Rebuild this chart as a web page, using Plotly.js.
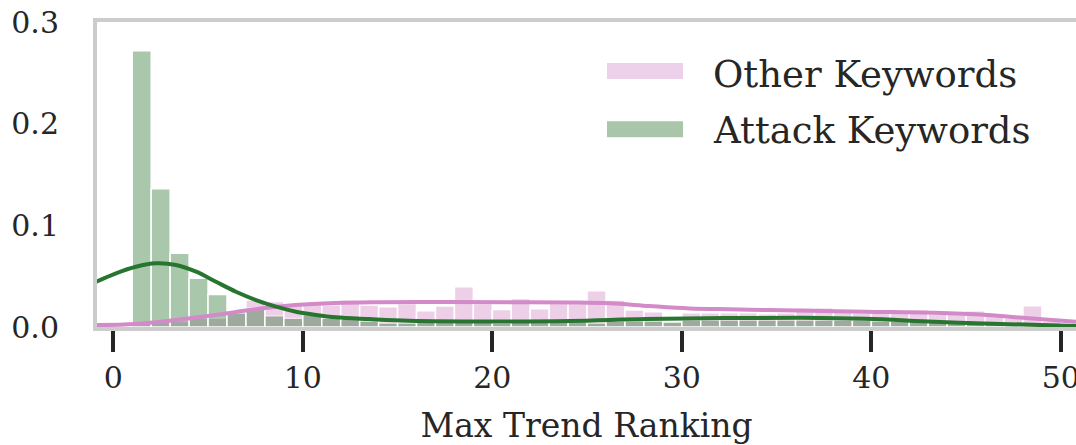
<!DOCTYPE html>
<html>
<head>
<meta charset="utf-8">
<script src="https://cdn.plot.ly/plotly-3.0.1.min.js"></script>
<style>html,body{margin:0;padding:0;background:#fff;}#chart{width:1076px;height:445px;}</style>
</head>
<body>
<div id="chart"></div>
<script>
// Histogram bins (left edges, width 1)
const binStarts = [1,2,3,4,5,6,7,8,9,10,11,12,13,14,15,16,17,18,19,20,21,22,23,24,25,26,27,28,29,30,31,32,33,34,35,36,37,38,39,40,41,42,43,44,45,46,47,48,49];
// Density per bin: Other Keywords
const otherHist = [0.004,0.005,0.006,0.0085,0.0085,0.014,0.0265,0.025,0.0215,0.023,0.022,0.0265,0.0216,0.020,0.023,0.016,0.0206,0.0395,0.023,0.0173,0.028,0.018,0.023,0.023,0.0356,0.0265,0.0167,0.015,0.005,0.014,0.014,0.014,0.014,0.013,0.014,0.019,0.019,0.015,0.014,0.014,0.015,0.017,0.013,0.013,0.016,0.011,0.009,0.021,0.006];
// Density per bin: Attack Keywords
const attackHist = [0.2716,0.136,0.0725,0.048,0.032,0.014,0.019,0.011,0.0085,0.012,0.0085,0.008,0.006,0.004,0.004,0.005,0.005,0.005,0.005,0.004,0.005,0.005,0.005,0.005,0.004,0.006,0.006,0.006,0.005,0.007,0.007,0.007,0.007,0.007,0.007,0.007,0.007,0.007,0.007,0.006,0.006,0.006,0.006,0.005,0.005,0.004,0.003,0.003,0.002];
// KDE curves
const otherKdeX = [-0.9,1.2,3.3,5.4,7.5,9.6,11.7,14,17.7,21,24.1,26.2,28.3,30.4,32.5,34.6,36.7,39.7,43.3,46.1,48.3,50.8];
const otherKdeY = [0.002,0.003,0.0069,0.0118,0.0174,0.0216,0.0236,0.0243,0.0245,0.0244,0.0241,0.0233,0.0206,0.0183,0.0174,0.0167,0.016,0.015,0.014,0.0118,0.0085,0.0052];
const attackKdeX = [-0.9,0.14,1.2,2.25,3.3,4.37,5.42,6.47,7.53,8.59,9.64,10.7,11.75,13.5,15.6,19.9,24.1,28.1,32.3,36.3,39.7,43.3,46.8,50.8];
const attackKdeY = [0.0445,0.0528,0.0593,0.0626,0.061,0.0544,0.0445,0.0347,0.0265,0.020,0.015,0.0118,0.0095,0.0078,0.0062,0.0055,0.006,0.0079,0.0088,0.0090,0.008,0.0052,0.003,0.001];
const seriesNames = ['Other Keywords','Attack Keywords'];
const xTicks = [0,10,20,30,40,50];
const yTicks = [0.0,0.1,0.2,0.3];
const yTickText = ['0.0','0.1','0.2','0.3'];

const pinkBase = '#d38ac8', greenBase = '#287530';
const pinkPatch = '#edd0e9', greenPatch = '#a9c6ab';
const font = 'DejaVu Serif, serif';
const txt = '#262626';

const traces = [
  {type:'bar', x:binStarts, y:otherHist, width:1, offset:0, opacity:0.4,
   marker:{color:pinkBase, line:{color:'#ffffff', width:1.5}}, name:seriesNames[0], showlegend:false, hoverinfo:'skip'},
  {type:'bar', x:binStarts, y:attackHist, width:1, offset:0, opacity:0.4,
   marker:{color:greenBase, line:{color:'#ffffff', width:1.5}}, name:seriesNames[1], showlegend:false, hoverinfo:'skip'},
  {type:'scatter', mode:'lines', x:otherKdeX, y:otherKdeY, line:{color:pinkBase, width:4, shape:'spline'}, showlegend:false, hoverinfo:'skip'},
  {type:'scatter', mode:'lines', x:attackKdeX, y:attackKdeY, line:{color:greenBase, width:4, shape:'spline'}, showlegend:false, hoverinfo:'skip'}
];

const W = 1076, H = 445, L = 97, T = 22, B = 117.5, R = 0;
const pw = W - L - R, ph = H - T - B;
const px2x = p => (p - L) / pw;
const py2y = p => (H - B - p) / ph;

const layout = {
  width: W, height: H,
  margin: {l:L, r:R, t:T, b:B, pad:0},
  paper_bgcolor:'#ffffff', plot_bgcolor:'#ffffff',
  barmode:'overlay', bargap:0,
  font:{family:font, color:txt, size:30},
  showlegend:false,
  xaxis:{range:[-0.86,50.8], tickvals:xTicks, ticktext:xTicks.map(String),
    showgrid:false, zeroline:false, showline:true, mirror:true, linecolor:'#cccccc', linewidth:4,
    ticks:'outside', ticklen:21, tickwidth:4, tickcolor:'#262626',
    ticklabeloverflow:'allow',
    tickfont:{family:font, size:30, color:txt},
    title:{text:'Max Trend Ranking', font:{family:font, size:33, color:txt}, standoff:22}},
  yaxis:{range:[0,0.3], tickvals:yTicks, ticktext:yTickText,
    showgrid:false, zeroline:false, showline:true, linecolor:'#cccccc', linewidth:4,
    ticks:'', ticklabelstandoff:28,
    tickfont:{family:font, size:30, color:txt}},
  shapes:[
    {type:'rect', xref:'paper', yref:'paper', x0:px2x(607), x1:px2x(683), y0:py2y(79), y1:py2y(63), fillcolor:pinkPatch, line:{width:0}},
    {type:'rect', xref:'paper', yref:'paper', x0:px2x(607), x1:px2x(683), y0:py2y(137.5), y1:py2y(121.5), fillcolor:greenPatch, line:{width:0}}
  ],
  annotations:[
    {xref:'paper', yref:'paper', x:px2x(711), y:py2y(75), xanchor:'left', yanchor:'middle', text:seriesNames[0], showarrow:false, font:{family:font, size:37, color:txt}},
    {xref:'paper', yref:'paper', x:px2x(711), y:py2y(131), xanchor:'left', yanchor:'middle', text:seriesNames[1], showarrow:false, font:{family:font, size:37, color:txt}}
  ]
};

Plotly.newPlot('chart', traces, layout, {staticPlot:true, displayModeBar:false});
</script>
</body>
</html>
